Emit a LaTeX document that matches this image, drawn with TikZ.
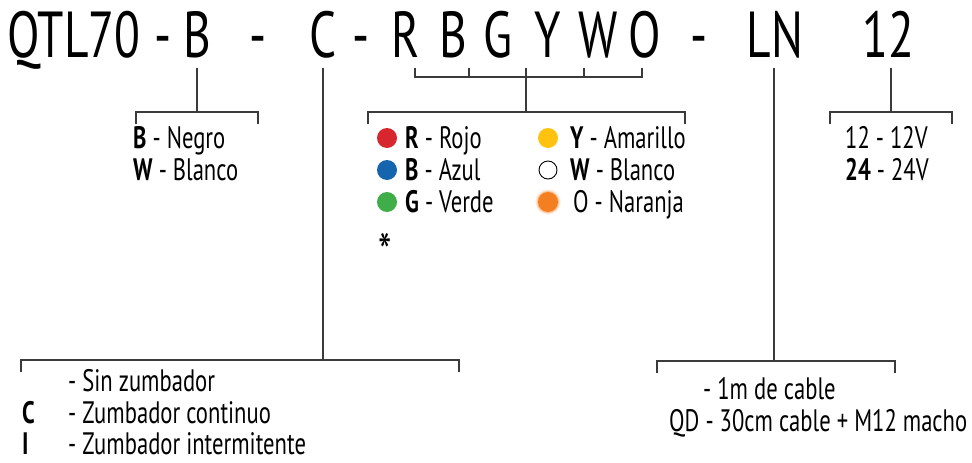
\documentclass[tikz,border=0pt]{standalone}
\usepackage{fontspec}
\setmainfont{PT Sans}[FakeStretch=0.73]
\usetikzlibrary{positioning}

\definecolor{rojo}{HTML}{D7262E}
\definecolor{azul}{HTML}{1565AE}
\definecolor{verde}{HTML}{3FAE49}
\definecolor{amarillo}{HTML}{FFC20E}
\definecolor{naranja}{HTML}{F47F20}
\definecolor{linea}{HTML}{3A3A3A}

\tikzset{
  code/.style={font=\fontsize{65}{65}\selectfont, inner sep=0pt, anchor=base},
  item/.style={font=\fontsize{31}{33}\selectfont, inner sep=0pt, anchor=base west},
  brk/.style={draw=linea, line width=1.4pt},
  dot/.style={circle, minimum size=20pt, inner sep=0pt},
}

% open bracket hanging down from a bar
\newcommand{\hangbar}[3]{\draw[brk] (#1,#3+12) -- (#1,#3) -- (#2,#3) -- (#2,#3+12);}

\begin{document}
\begin{tikzpicture}[x=1pt, y=-1pt]
\useasboundingbox (0,0) rectangle (972,463);

% Model code
\node[code] (qtl) at (74,57) {QTL70};
\node[code] (d1) at (163,57) {-};
\node[code] (b) at (197,57) {B};
\node[code] (d2) at (258,57) {-};
\node[code] (c) at (323,57) {C};
\node[code] (d3) at (361,57) {-};
\node[code] (r) at (406,57) {R};
\node[code] (bb) at (453,57) {B};
\node[code] (g) at (498,57) {G};
\node[code] (y) at (548,57) {Y};
\node[code] (w) at (598,57) {W};
\node[code] (o) at (645,57) {O};
\node[code] (d4) at (699,57) {-};
\node[code] (ln) at (775,57) {LN};
\node[code] (volt) at (888,57) {12};

% Color bracket
\coordinate (tR) at (415,68);
\coordinate (tB) at (469,68);
\coordinate (tG) at (526,68);
\coordinate (tW) at (584,68);
\coordinate (tO) at (642,68);
\draw[brk] (tR) -- ++(0,9) -| (tO);
\foreach \t in {tB,tW}
  \draw[brk] (\t) -- ++(0,9);
\coordinate (colJoin) at (526,112);
\draw[brk] (tG) -- (colJoin);
\hangbar{368}{685}{112}

% Housing color
\coordinate (bTop) at (197,68);
\coordinate (bJoin) at (197,112);
\draw[brk] (bTop) -- (bJoin);
\hangbar{136}{258}{112}
\node[item] (negro) at (133,148) {\textbf{B} - Negro};
\node[item] (blanco) at (133,180) {\textbf{W} - Blanco};

% Colors
\node[dot, fill=rojo] (dR) at (387,138) {};
\node[dot, fill=azul] (dB) at (387,170) {};
\node[dot, fill=verde] (dG) at (387,202) {};
\node[dot, fill=amarillo] (dY) at (548,138) {};
\node[dot, draw=black, line width=0.9pt, minimum size=18pt] (dW) at (548,170) {};
\foreach \s/\o in {26/0.08,24/0.15,22/0.35}
  \node[dot, fill=naranja, opacity=\o, minimum size=\s pt] at (548,202) {};
\node[dot, fill=naranja] (dO) at (548,202) {};
\node[item] (rojo) at (405,148) {\textbf{R} - Rojo};
\node[item] (azul) at (405,180) {\textbf{B} - Azul};
\node[item] (verde) at (405,212) {\textbf{G} - Verde};
\node[item] (amar) at (570,148) {\textbf{Y} - Amarillo};
\node[item] (blan) at (570,180) {\textbf{W} - Blanco};
\node[item] (nar) at (573,212) {O - Naranja};
\node[font=\fontsize{52}{52}\selectfont, inner sep=0pt] (ast) at (385,252) {*};

% Buzzer
\coordinate (cTop) at (323,68);
\coordinate (cJoin) at (323,360);
\draw[brk] (cTop) -- (cJoin);
\hangbar{21}{459}{360}
\node[item] (sin) at (68,391) {- Sin zumbador};
\node[item] (cC) at (22,423) {\textbf{C}};
\node[item] (cont) at (68,423) {- Zumbador continuo};
\node[item] (cI) at (22,454) {\textbf{I}};
\node[item] (inter) at (68,454) {- Zumbador intermitente};

% Connection
\coordinate (lnTop) at (774,68);
\coordinate (lnJoin) at (774,361);
\draw[brk] (lnTop) -- (lnJoin);
\hangbar{657}{895}{361}
\node[item] (cable) at (703,399) {- 1m de cable};
\node[item] (qd) at (669,431) {QD - 30cm cable + M12 macho};

% Voltage
\coordinate (vTop) at (891,68);
\coordinate (vJoin) at (891,112);
\draw[brk] (vTop) -- (vJoin);
\hangbar{830}{952}{112}
\node[item] (v12) at (845,148) {12 - 12V};
\node[item] (v24) at (845,180) {\textbf{24} - 24V};
\end{tikzpicture}
\end{document}
